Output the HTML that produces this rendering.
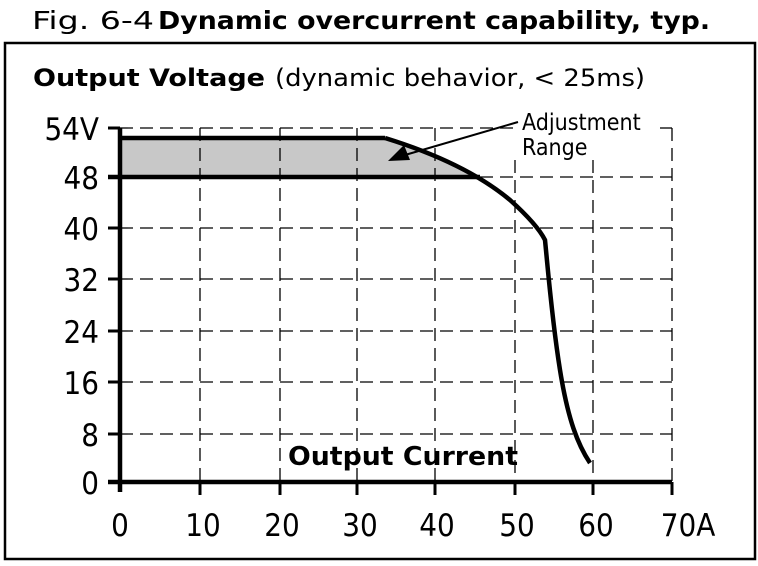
<!DOCTYPE html>
<html><head><meta charset="utf-8"><style>
html,body{margin:0;padding:0;background:#fff;}
svg{display:block;}
text{font-family:"DejaVu Sans Condensed","Liberation Sans",sans-serif;fill:#000;}
</style></head><body>
<svg width="758" height="566" viewBox="0 0 758 566" xmlns="http://www.w3.org/2000/svg">
<text x="32" y="29" font-size="25" textLength="122" lengthAdjust="spacingAndGlyphs">Fig. 6-4</text>
<text x="158" y="29" font-size="25" font-weight="bold" textLength="552" lengthAdjust="spacingAndGlyphs">Dynamic overcurrent capability, typ.</text>
<rect x="5" y="43" width="750" height="516" fill="none" stroke="#000" stroke-width="2.5"/>
<text x="33" y="86" font-size="24" font-weight="bold" textLength="232" lengthAdjust="spacingAndGlyphs">Output Voltage</text>
<text x="275" y="86" font-size="24" textLength="370" lengthAdjust="spacingAndGlyphs">(dynamic behavior, &lt; 25ms)</text>
<polygon points="120,138 385,138 420,150 455,165 480,177 120,177" fill="#c8c8c8"/>
<g stroke="#000" stroke-width="1.3" stroke-dasharray="13,7" fill="none">
<line x1="120" y1="128" x2="515" y2="128"/>
<line x1="660" y1="128" x2="672" y2="128"/>
<line x1="120" y1="228" x2="672" y2="228"/>
<line x1="120" y1="279" x2="672" y2="279"/>
<line x1="120" y1="331" x2="672" y2="331"/>
<line x1="120" y1="382" x2="672" y2="382"/>
<line x1="120" y1="434" x2="672" y2="434"/>
<line x1="480" y1="177" x2="672" y2="177"/>
<line x1="200" y1="128" x2="200" y2="482"/>
<line x1="280" y1="128" x2="280" y2="482"/>
<line x1="357" y1="128" x2="357" y2="482"/>
<line x1="435" y1="128" x2="435" y2="482"/>
<line x1="515" y1="160" x2="515" y2="482"/>
<line x1="593" y1="160" x2="593" y2="482"/>
<line x1="672" y1="128" x2="672" y2="482"/>
</g>
<g stroke="#000" stroke-width="4.5" fill="none">
<line x1="120" y1="128" x2="120" y2="492"/>
<line x1="108" y1="482" x2="672" y2="482"/>
<line x1="120" y1="138" x2="385" y2="138"/>
<line x1="108" y1="177" x2="480" y2="177"/>
<path d="M385,138 C440,155 480,175 510,200 C530,218 540,230 545,240 C548,270 552,320 560,370 C568,420 578,445 590,463"/>
</g>
<g stroke="#000" stroke-width="3">
<line x1="108" y1="128" x2="120" y2="128"/>
<line x1="108" y1="228" x2="120" y2="228"/><line x1="108" y1="279" x2="120" y2="279"/>
<line x1="108" y1="331" x2="120" y2="331"/><line x1="108" y1="382" x2="120" y2="382"/>
<line x1="108" y1="434" x2="120" y2="434"/>
<line x1="200" y1="482" x2="200" y2="495"/><line x1="280" y1="482" x2="280" y2="495"/>
<line x1="357" y1="482" x2="357" y2="495"/><line x1="435" y1="482" x2="435" y2="495"/>
<line x1="515" y1="482" x2="515" y2="495"/><line x1="593" y1="482" x2="593" y2="495"/>
<line x1="672" y1="482" x2="672" y2="495"/>
</g>
<line x1="518" y1="122" x2="405" y2="155" stroke="#000" stroke-width="2"/>
<polygon points="388,161 404,145 410,160" fill="#000"/>
<text x="522" y="130" font-size="23">Adjustment</text>
<text x="522" y="155" font-size="23">Range</text>
<g font-size="31" text-anchor="end">
<text x="99" y="140">54V</text><text x="99" y="189">48</text><text x="99" y="240">40</text>
<text x="99" y="291">32</text><text x="99" y="343">24</text><text x="99" y="394">16</text>
<text x="99" y="446">8</text><text x="99" y="494">0</text>
</g>
<g font-size="31" text-anchor="middle">
<text x="120" y="536">0</text><text x="203" y="536">10</text><text x="282" y="536">20</text>
<text x="360" y="536">30</text><text x="437" y="536">40</text><text x="517" y="536">50</text>
<text x="596" y="536">60</text><text x="688" y="536">70A</text>
</g>
<text x="288" y="465" font-size="26" font-weight="bold" textLength="230" lengthAdjust="spacingAndGlyphs">Output Current</text>
</svg>
</body></html>
